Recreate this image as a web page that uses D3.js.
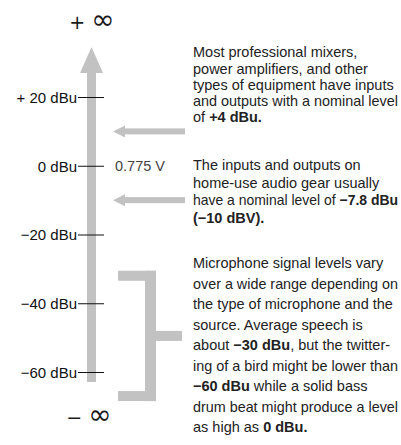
<!DOCTYPE html>
<html><head><meta charset="utf-8">
<script src="https://cdn.jsdelivr.net/npm/d3@7"></script>
<style>body{margin:0;background:#fff}svg{display:block}</style>
</head><body>
<script>
// ---- data ----
const tickLevels = [20, 0, -20, -40, -60];
const tickLabels = ["+ 20 dBu", "0 dBu", "\u221220 dBu", "\u221240 dBu", "\u221260 dBu"];
const refLevel = 0, refLabel = "0.775 V";
const arrowLevels = [10, -10];          // annotation arrows (pointing to the scale)
const micRange = [-32, -67];            // bracket span for microphone levels
const block1 = [
  [["Most professional mixers,", 0]],
  [["power amplifiers, and other", 0]],
  [["types of equipment have inputs", 0]],
  [["and outputs with a nominal level", 0]],
  [["of ", 0], ["+4 dBu.", 1]]
];
const block2 = [
  [["The inputs and outputs on", 0]],
  [["home-use audio gear usually", 0]],
  [["have a nominal level of ", 0], ["\u22127.8 dBu", 1]],
  [["(\u221210 dBV).", 1]]
];
const block3 = [
  [["Microphone signal levels vary", 0]],
  [["over a wide range depending on", 0]],
  [["the type of microphone and the", 0]],
  [["source. Average speech is", 0]],
  [["about ", 0], ["\u221230 dBu", 1], [", but the twitter-", 0]],
  [["ing of a bird might be lower than", 0]],
  [["\u221260 dBu", 1], [" while a solid bass", 0]],
  [["drum beat might produce a level", 0]],
  [["as high as ", 0], ["0 dBu.", 1]]
];

// ---- chart ----
const W = 401, H = 445;
const svg = d3.select("body").append("svg").attr("width", W).attr("height", H);
const y = d3.scaleLinear().domain([20, -60]).range([97, 372]);
const gray = "#c2c2c2";
const ax = 91.5;

// vertical arrow
svg.append("rect").attr("x", ax - 4.5).attr("y", 70).attr("width", 9).attr("height", 382 - 70).attr("fill", gray);
svg.append("path").attr("d", `M${ax},47 L${ax + 11.5},73 L${ax - 11.5},73 Z`).attr("fill", gray);

// ticks + labels
const axis = d3.axisLeft(y).tickValues(tickLevels).tickSize(0).tickFormat((d, i) => tickLabels[i]);
const g = svg.append("g").attr("transform", "translate(77,0)").call(axis);
g.select(".domain").remove();
g.selectAll(".tick text").attr("x", 0).attr("dy", "0.36em")
  .style("font-family", "Liberation Sans, Arial, sans-serif").style("font-size", "15px").attr("fill", "#111");
g.selectAll(".tick").append("line").attr("x1", 1).attr("x2", 27).attr("stroke", "#111").attr("stroke-width", 1);

// 0.775 V
svg.append("text").attr("x", 115).attr("y", y(refLevel)).attr("dy", "0.36em")
  .style("font-family", "Liberation Sans, Arial, sans-serif").style("font-size", "14.5px").attr("fill", "#444").text(refLabel);

// infinity labels
function inf(sign, cy, cx) {
  const t = svg.append("text").attr("x", cx).attr("y", cy + 9).attr("text-anchor", "middle")
    .style("font-family", "DejaVu Sans, sans-serif").attr("fill", "#1a1a1a");
  t.append("tspan").style("font-size", "19px").text(sign + " ");
  t.append("tspan").style("font-size", "28px").text("\u221E");
}
inf("+", 20, 92);
inf("\u2212", 415, 89);

// horizontal arrows
arrowLevels.forEach(l => {
  const yy = y(l);
  svg.append("rect").attr("x", 124).attr("y", yy - 3).attr("width", 185 - 124).attr("height", 6).attr("fill", gray);
  svg.append("path").attr("d", `M113,${yy} L125,${yy - 6} L125,${yy + 6} Z`).attr("fill", gray);
});

// bracket
const bt = y(micRange[0]), bb = y(micRange[1]), bm = (bt + bb) / 2, th = 10;
svg.append("rect").attr("x", 118).attr("y", bt - th / 2).attr("width", 156 - 118).attr("height", th).attr("fill", gray);
svg.append("rect").attr("x", 118).attr("y", bb - th / 2).attr("width", 156 - 118).attr("height", th).attr("fill", gray);
svg.append("rect").attr("x", 145).attr("y", bt - th / 2).attr("width", 11).attr("height", bb - bt + th).attr("fill", gray);
svg.append("rect").attr("x", 156).attr("y", bm - th / 2).attr("width", 182 - 156).attr("height", th).attr("fill", gray);

// text blocks
const maxW = 205;
function block(lines, y0, step) {
  lines.forEach((parts, i) => {
    const t = svg.append("text").attr("x", 193).attr("y", y0 + i * step).attr("dy", "0.36em")
      .style("font-family", "Liberation Sans, Arial, sans-serif").style("font-size", "14.5px").attr("fill", "#222");
    parts.forEach(([s, b]) => t.append("tspan").style("font-weight", b ? "bold" : "normal").text(s));
    const w = t.node().getComputedTextLength();
    if (w > maxW) t.attr("textLength", maxW).attr("lengthAdjust", "spacingAndGlyphs");
  });
}
block(block1, 52, 16.3);
block(block2, 165, 17.6);
block(block3, 263, 20.5);
</script>
</body></html>
